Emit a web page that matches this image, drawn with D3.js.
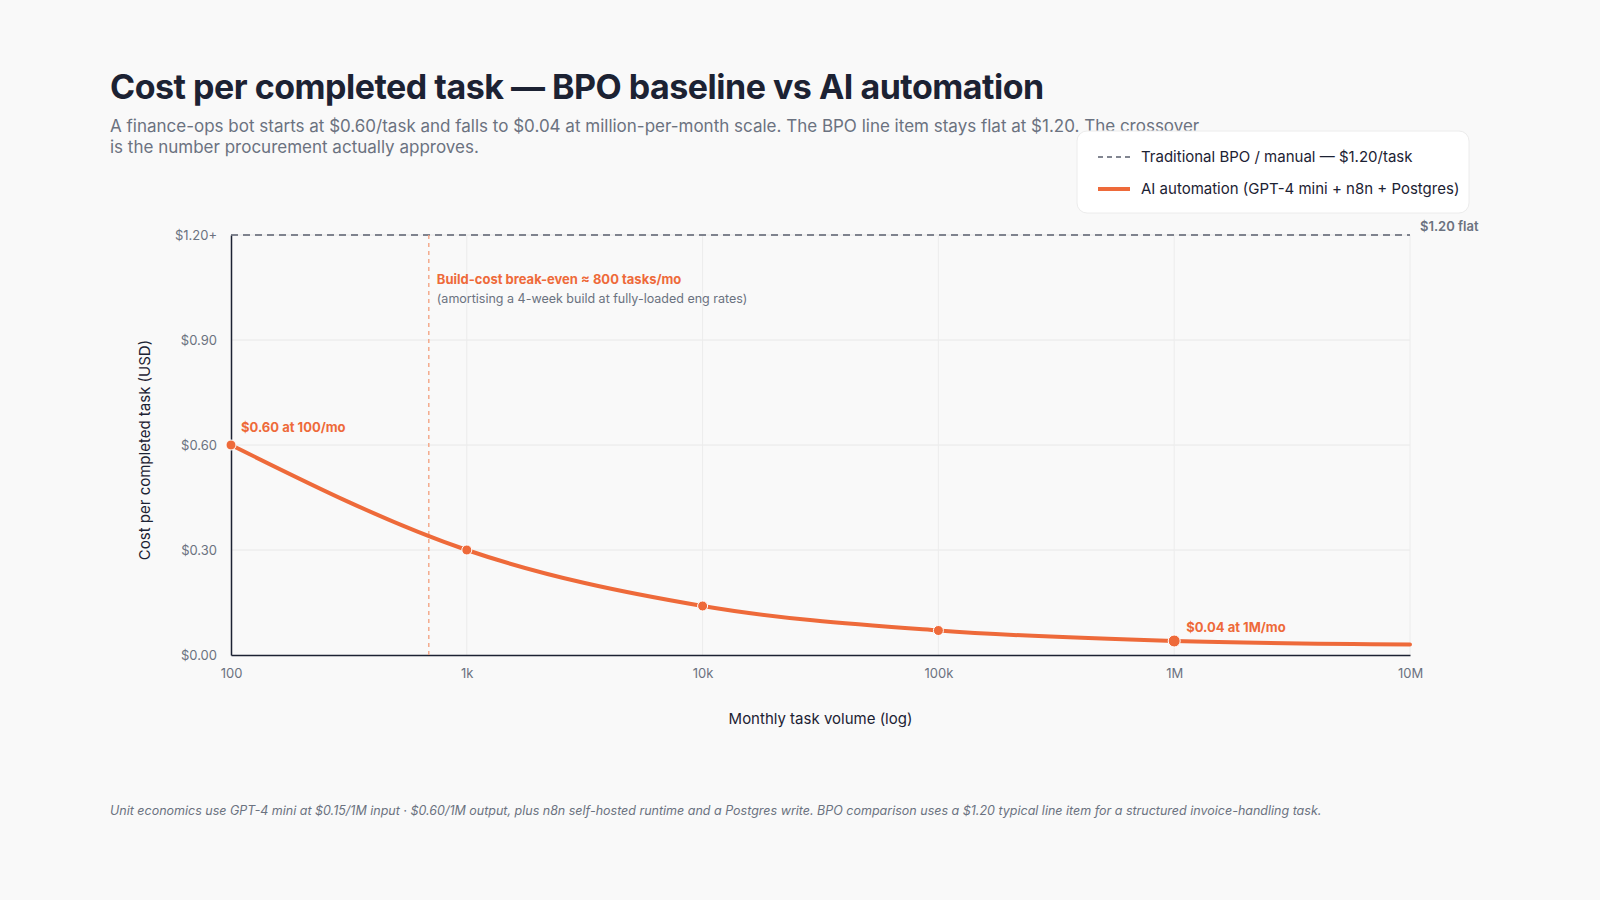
<!DOCTYPE html>
<html><head><meta charset="utf-8">
<script src="https://cdn.jsdelivr.net/npm/d3@7"></script>
<style>body{margin:0;background:#f9f9f9;font-family:Inter,"Noto Sans",sans-serif}</style>
</head><body><svg id="c" width="1600" height="900"></svg>
<script>
const volumes=[100,1000,10000,100000,1000000,10000000];
const aiCost=[0.60,0.30,0.14,0.07,0.04,0.03];
const markerVolumes=[100,1000,10000,100000,1000000];
const bpoCost=1.20;
const breakEven=690;
const xTicks=[100,1000,10000,100000,1000000,10000000];
const xTickLabels=["100","1k","10k","100k","1M","10M"];
const yTicks=[0,0.3,0.6,0.9,1.2];
const yTickLabels=["$0.00","$0.30","$0.60","$0.90","$1.20+"];

const svg=d3.select("#c");
const ORANGE="#ee6a3a", DARK="#1c2233", GREY="#6b7280";
const L=231,R=1410,T=235,B=655;
const x=d3.scaleLog().domain([100,1e7]).range([L,R]);
const y=d3.scaleLinear().domain([0,1.2]).range([B,T]);

svg.append("text").attr("x",110).attr("y",99).attr("font-size",34).attr("font-weight",700).attr("fill",DARK).attr("letter-spacing",-0.5)
 .text("Cost per completed task — BPO baseline vs AI automation");
const sub=svg.append("text").attr("font-size",17).attr("fill",GREY);
sub.append("tspan").attr("x",110).attr("y",132).text("A finance-ops bot starts at $0.60/task and falls to $0.04 at million-per-month scale. The BPO line item stays flat at $1.20. The crossover");
sub.append("tspan").attr("x",110).attr("y",153).text("is the number procurement actually approves.");

// grid
svg.append("g").selectAll("line").data(yTicks.slice(1)).join("line")
 .attr("x1",L).attr("x2",R).attr("y1",d=>y(d)).attr("y2",d=>y(d)).attr("stroke","#e8e8e8");
svg.append("g").selectAll("line").data(xTicks.slice(1)).join("line")
 .attr("x1",d=>x(d)).attr("x2",d=>x(d)).attr("y1",T).attr("y2",B).attr("stroke","#ececec");

// axes
const yAxis=svg.append("g").attr("transform",`translate(${L},0)`).call(d3.axisLeft(y).tickValues(yTicks).tickFormat((d,i)=>yTickLabels[i]).tickSize(0).tickPadding(14));
yAxis.select(".domain").attr("stroke",DARK).attr("stroke-width",1.5);
yAxis.selectAll("text").attr("font-size",13).attr("fill",GREY).attr("font-family","Inter");
const xAxis=svg.append("g").attr("transform",`translate(0,${B})`).call(d3.axisBottom(x).tickValues(xTicks).tickFormat((d,i)=>xTickLabels[i]).tickSize(0).tickPadding(14));
xAxis.select(".domain").attr("stroke",DARK).attr("stroke-width",1.5);
xAxis.selectAll("text").attr("font-size",13).attr("fill",GREY).attr("font-family","Inter");

svg.append("text").attr("x",(L+R)/2).attr("y",724).attr("text-anchor","middle").attr("font-size",15).attr("fill",DARK).text("Monthly task volume (log)");
svg.append("text").attr("transform","translate(150,450) rotate(-90)").attr("text-anchor","middle").attr("font-size",15).attr("fill",DARK).text("Cost per completed task (USD)");

// BPO line
svg.append("line").attr("x1",x(100)).attr("x2",x(1e7)).attr("y1",y(bpoCost)).attr("y2",y(bpoCost))
 .attr("stroke","#5a5f6e").attr("stroke-width",1.6).attr("stroke-dasharray","7,5");
svg.append("text").attr("x",x(1e7)+10).attr("y",y(bpoCost)-4).attr("font-size",13).attr("font-weight",600).attr("fill",GREY).text("$1.20 flat");

// break-even
svg.append("line").attr("x1",x(breakEven)).attr("x2",x(breakEven)).attr("y1",T).attr("y2",B)
 .attr("stroke","#f3a585").attr("stroke-width",1.4).attr("stroke-dasharray","4,4");
svg.append("text").attr("x",x(breakEven)+8).attr("y",284).attr("font-size",13).attr("font-weight",700).attr("fill",ORANGE).text("Build-cost break-even ≈ 800 tasks/mo");
svg.append("text").attr("x",x(breakEven)+8).attr("y",303).attr("font-size",12.5).attr("fill",GREY).text("(amortising a 4-week build at fully-loaded eng rates)");

// AI line
const pts=volumes.map((v,i)=>[v,aiCost[i]]);
svg.append("path").datum(pts).attr("fill","none").attr("stroke",ORANGE).attr("stroke-width",4).attr("stroke-linecap","round")
 .attr("d",d3.line().x(d=>x(d[0])).y(d=>y(d[1])).curve(d3.curveMonotoneX));
svg.append("g").selectAll("circle").data(markerVolumes).join("circle")
 .attr("cx",d=>x(d)).attr("cy",d=>y(aiCost[volumes.indexOf(d)])).attr("r",(d)=>d===1e6?6:5).attr("fill",ORANGE).attr("stroke","#fff").attr("stroke-width",1);
svg.append("text").attr("x",x(100)+10).attr("y",y(0.6)-13).attr("font-size",13).attr("font-weight",700).attr("fill",ORANGE).text("$0.60 at 100/mo");
svg.append("text").attr("x",x(1e6)+12).attr("y",y(0.04)-9).attr("font-size",13).attr("font-weight",700).attr("fill",ORANGE).text("$0.04 at 1M/mo");

// legend
const lg=svg.append("g");
lg.append("rect").attr("x",1077).attr("y",131).attr("width",392).attr("height",82).attr("rx",10).attr("fill","#fff").attr("stroke","#ececec");
lg.append("line").attr("x1",1098).attr("x2",1130).attr("y1",157).attr("y2",157).attr("stroke","#5a5f6e").attr("stroke-width",1.6).attr("stroke-dasharray","5,4");
lg.append("line").attr("x1",1098).attr("x2",1130).attr("y1",189).attr("y2",189).attr("stroke",ORANGE).attr("stroke-width",4);
lg.append("text").attr("x",1141).attr("y",162).attr("font-size",15).attr("fill",DARK).text("Traditional BPO / manual — $1.20/task");
lg.append("text").attr("x",1141).attr("y",194).attr("font-size",15).attr("fill",DARK).text("AI automation (GPT-4 mini + n8n + Postgres)");

svg.append("text").attr("x",110).attr("y",815).attr("font-size",12.5).attr("font-style","italic").attr("fill",GREY)
 .text("Unit economics use GPT-4 mini at $0.15/1M input · $0.60/1M output, plus n8n self-hosted runtime and a Postgres write. BPO comparison uses a $1.20 typical line item for a structured invoice-handling task.");
</script></body></html>
